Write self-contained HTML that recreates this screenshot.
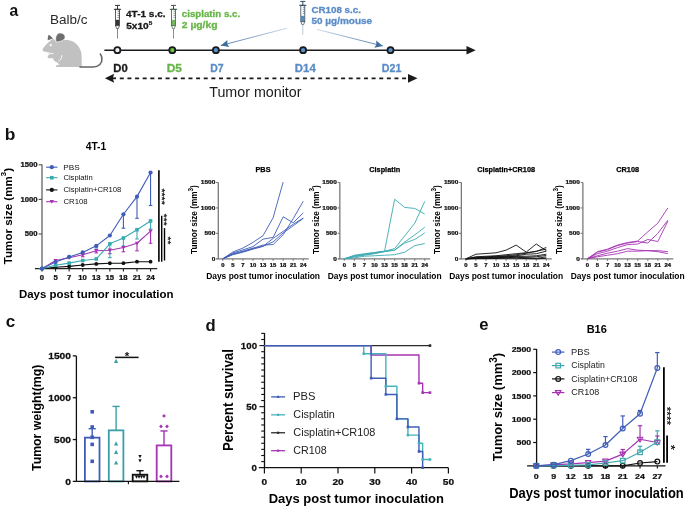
<!DOCTYPE html>
<html><head><meta charset="utf-8"><style>
html,body{margin:0;padding:0;background:#fff;}
svg{display:block;will-change:transform;}
text{font-family:"Liberation Sans", sans-serif;}
</style></head><body>
<svg width="685" height="507" viewBox="0 0 685 507" font-family='"Liberation Sans", sans-serif'>
<rect width="685" height="507" fill="#fff"/>
<text transform="translate(9.43,15.60) scale(0.932,1)" font-size="16.80" font-weight="bold" fill="#111">a</text>
<text transform="translate(50.02,23.60) scale(1.074,1)" font-size="12.60" font-weight="normal" fill="#2a2a2a">Balb/c</text>
<g>
<path d="M42.6,49.4 C43.6,47.3 48.6,41.6 53.2,38.6 L56,41.6 C60,40.3 64,39.6 68,40 C76,41 81.5,48 81.6,56 L81.8,67.1 L55.8,67.1 C55.8,65.5 57,64.8 59.5,64.8 L57,62.2 C54.5,61.8 53.2,60 53.2,58.3 L49.2,58.3 C47.4,58.2 47.2,55.3 48.8,54.9 L50.5,54.3 L44.6,52 C43.3,51.4 42.4,50.5 42.6,49.4 Z" fill="#c1c1c1"/>
<path d="M44.3,51.9 L53.6,53.9" stroke="#fff" stroke-width="0.9" fill="none"/>
<path d="M61.9,55.2 C61.9,57.8 60.6,60 58.5,61.2" stroke="#fff" stroke-width="0.9" fill="none"/>
<path d="M47.8,40.3 C47.6,38.2 47.9,36.2 48.6,34.7 C50.4,35.6 52,37 52.9,38.6 Z" fill="#6e6e6e"/>
<path d="M56.2,42 C54.8,38.5 56,33.2 59.8,32.9 C63.6,32.7 65.8,35.6 64.8,38.4 C63.8,40.8 59.5,41.8 56.2,42 Z" fill="#6e6e6e" stroke="#fff" stroke-width="0.7"/>
<circle cx="50.7" cy="45.2" r="1.1" fill="#fff"/>
<path d="M80,67 L93,67 C99,67 102.3,63 101.9,58.6 C101.7,56.6 101.1,55 100.3,54" stroke="#666" stroke-width="1.6" fill="none" stroke-linecap="round"/>
</g>
<line x1="104.40" y1="50.20" x2="468.00" y2="50.20" stroke="#1a1a1a" stroke-width="1.6" />
<polygon points="466.5,46 475.7,50.2 466.5,54.4" fill="#1a1a1a"/>
<circle cx="117.4" cy="50.2" r="3.0" fill="#eef2f8" stroke="#1a1a1a" stroke-width="1.8"/>
<circle cx="172.3" cy="50.2" r="3.0" fill="#6abf4b" stroke="#1a1a1a" stroke-width="1.8"/>
<circle cx="215.9" cy="50.2" r="3.0" fill="#5590cf" stroke="#1a1a1a" stroke-width="1.8"/>
<circle cx="303.1" cy="50.2" r="3.0" fill="#5590cf" stroke="#1a1a1a" stroke-width="1.8"/>
<circle cx="390.5" cy="50.2" r="3.0" fill="#5590cf" stroke="#1a1a1a" stroke-width="1.8"/>
<text transform="translate(113.27,71.60) scale(1.064,1)" font-size="10.60" font-weight="bold" fill="#1a1a1a" stroke="#1a1a1a" stroke-width="0.30">D0</text>
<text transform="translate(166.63,71.60) scale(1.123,1)" font-size="10.60" font-weight="bold" fill="#67b548" stroke="#67b548" stroke-width="0.30">D5</text>
<text transform="translate(210.22,71.60) scale(0.988,1)" font-size="10.60" font-weight="bold" fill="#5a8cc8" stroke="#5a8cc8" stroke-width="0.30">D7</text>
<text transform="translate(294.86,71.60) scale(1.074,1)" font-size="10.60" font-weight="bold" fill="#5a8cc8" stroke="#5a8cc8" stroke-width="0.30">D14</text>
<text transform="translate(381.81,71.60) scale(1.006,1)" font-size="10.60" font-weight="bold" fill="#5a8cc8" stroke="#5a8cc8" stroke-width="0.30">D21</text>
<line x1="119.80" y1="78.30" x2="407.00" y2="78.30" stroke="#1a1a1a" stroke-width="1.8" stroke-dasharray="4 3.63"/>
<polygon points="104.9,78.3 114.2,73.8 112.8,78.3 114.2,82.8" fill="#1a1a1a"/>
<line x1="112.00" y1="78.30" x2="116.00" y2="78.30" stroke="#1a1a1a" stroke-width="1.8" />
<polygon points="417.5,78.3 408,73.9 408,82.7" fill="#1a1a1a"/>
<text transform="translate(209.24,97.20) scale(0.985,1)" font-size="14.50" font-weight="normal" fill="#1a1a1a">Tumor monitor</text>
<g>
<line x1="115.0" y1="5.4" x2="120.0" y2="5.4" stroke="#333" stroke-width="1"/>
<line x1="117.5" y1="5.4" x2="117.5" y2="9.3" stroke="#333" stroke-width="1"/>
<line x1="113.9" y1="9.3" x2="121.1" y2="9.3" stroke="#333" stroke-width="1"/>
<rect x="115.8" y="19.8" width="3.4" height="5.6" fill="#333"/>
<rect x="115.5" y="9.3" width="4" height="16.4" fill="none" stroke="#333" stroke-width="0.8"/>
<path d="M117.5 11.2 h2 M117.5 13.3 h2 M117.5 15.4 h2 M117.5 17.4 h2" stroke="#333" stroke-width="0.6"/>
<path d="M115.7 25.700000000000003 L116.6 28.6 L118.4 28.6 L119.3 25.700000000000003" stroke="#333" stroke-width="0.7" fill="none"/>
<line x1="117.5" y1="28.6" x2="117.5" y2="38.6" stroke="#555" stroke-width="0.7"/>
</g>
<g>
<line x1="171.0" y1="5.4" x2="176.0" y2="5.4" stroke="#3d5a45" stroke-width="1"/>
<line x1="173.5" y1="5.4" x2="173.5" y2="9.3" stroke="#3d5a45" stroke-width="1"/>
<line x1="169.9" y1="9.3" x2="177.1" y2="9.3" stroke="#3d5a45" stroke-width="1"/>
<rect x="171.8" y="19.8" width="3.4" height="5.6" fill="#74b85a"/>
<rect x="171.5" y="9.3" width="4" height="16.4" fill="none" stroke="#3d5a45" stroke-width="0.8"/>
<path d="M173.5 11.2 h2 M173.5 13.3 h2 M173.5 15.4 h2 M173.5 17.4 h2" stroke="#3d5a45" stroke-width="0.6"/>
<path d="M171.7 25.700000000000003 L172.6 28.6 L174.4 28.6 L175.3 25.700000000000003" stroke="#3d5a45" stroke-width="0.7" fill="none"/>
<line x1="173.5" y1="28.6" x2="173.5" y2="38.6" stroke="#4a6a52" stroke-width="0.7"/>
</g>
<g>
<line x1="300.3" y1="1.4" x2="305.3" y2="1.4" stroke="#34495e" stroke-width="1"/>
<line x1="302.8" y1="1.4" x2="302.8" y2="5.3" stroke="#34495e" stroke-width="1"/>
<line x1="299.2" y1="5.3" x2="306.40000000000003" y2="5.3" stroke="#34495e" stroke-width="1"/>
<rect x="301.1" y="15.8" width="3.4" height="5.6" fill="#4f8fc6"/>
<rect x="300.8" y="5.3" width="4" height="16.4" fill="none" stroke="#34495e" stroke-width="0.8"/>
<path d="M302.8 7.199999999999999 h2 M302.8 9.3 h2 M302.8 11.4 h2 M302.8 13.4 h2" stroke="#34495e" stroke-width="0.6"/>
<path d="M301.0 21.7 L301.90000000000003 24.599999999999998 L303.7 24.599999999999998 L304.6 21.7" stroke="#34495e" stroke-width="0.7" fill="none"/>
<line x1="302.8" y1="24.599999999999998" x2="302.8" y2="34.6" stroke="#9fb2c4" stroke-width="0.7"/>
</g>
<text transform="translate(126.05,16.70) scale(1.043,1)" font-size="9.60" font-weight="bold" fill="#1a1a1a" stroke="#1a1a1a" stroke-width="0.30">4T-1 s.c.</text>
<text transform="translate(126.20,28.50) scale(1.022,1)" font-size="9.90" font-weight="bold" fill="#1a1a1a" stroke="#1a1a1a" stroke-width="0.30">5x10</text>
<text transform="translate(148.71,24.60) scale(1.391,1)" font-size="4.60" font-weight="bold" fill="#1a1a1a" stroke="#1a1a1a" stroke-width="0.20">5</text>
<text transform="translate(181.81,16.90) scale(1.045,1)" font-size="9.30" font-weight="bold" fill="#67b548" stroke="#67b548" stroke-width="0.30">cisplatin s.c.</text>
<text transform="translate(181.84,27.80) scale(1.106,1)" font-size="9.30" font-weight="bold" fill="#67b548" stroke="#67b548" stroke-width="0.30">2 µg/kg</text>
<text transform="translate(311.41,13.10) scale(1.010,1)" font-size="9.70" font-weight="bold" fill="#5a8cc8" stroke="#5a8cc8" stroke-width="0.30">CR108 s.c.</text>
<text transform="translate(311.50,24.30) scale(1.029,1)" font-size="9.70" font-weight="bold" fill="#5a8cc8" stroke="#5a8cc8" stroke-width="0.30">50 µg/mouse</text>
<defs><linearGradient id="ag1" gradientUnits="userSpaceOnUse" x1="287" y1="28.2" x2="220.8" y2="45.5"><stop offset="0" stop-color="#c9d7e6"/><stop offset="0.5" stop-color="#7f9fc2"/><stop offset="1" stop-color="#45739f"/></linearGradient></defs>
<line x1="287.00" y1="28.20" x2="220.80" y2="45.50" stroke="url(#ag1)" stroke-width="0.9" />
<polygon points="220.80,45.50 227.41,39.95 227.19,43.83 229.28,47.11" fill="#3d6d9d"/>
<defs><linearGradient id="ag2" gradientUnits="userSpaceOnUse" x1="317" y1="29.4" x2="382.8" y2="46.0"><stop offset="0" stop-color="#c9d7e6"/><stop offset="0.5" stop-color="#7f9fc2"/><stop offset="1" stop-color="#45739f"/></linearGradient></defs>
<line x1="317.00" y1="29.40" x2="382.80" y2="46.00" stroke="url(#ag2)" stroke-width="0.9" />
<polygon points="382.80,46.00 374.33,47.68 376.40,44.39 376.14,40.50" fill="#3d6d9d"/>
<text transform="translate(4.67,139.70) scale(1.117,1)" font-size="15.60" font-weight="bold" fill="#111">b</text>
<text transform="translate(85.65,150.10) scale(1.031,1)" font-size="10.00" font-weight="bold" fill="#000">4T-1</text>
<line x1="42.00" y1="164.60" x2="42.00" y2="268.60" stroke="#555" stroke-width="1.2" />
<line x1="34.90" y1="268.60" x2="157.20" y2="268.60" stroke="#222" stroke-width="1.3" />
<line x1="38.60" y1="268.60" x2="42.00" y2="268.60" stroke="#555" stroke-width="1.1" />
<line x1="38.60" y1="234.00" x2="42.00" y2="234.00" stroke="#555" stroke-width="1.1" />
<text transform="translate(24.82,236.20) scale(1.200,1)" font-size="6.40" font-weight="bold" fill="#111" stroke="#111" stroke-width="0.25">500</text>
<line x1="38.60" y1="199.40" x2="42.00" y2="199.40" stroke="#555" stroke-width="1.1" />
<text transform="translate(20.52,201.60) scale(1.200,1)" font-size="6.40" font-weight="bold" fill="#111" stroke="#111" stroke-width="0.25">1000</text>
<line x1="38.60" y1="164.80" x2="42.00" y2="164.80" stroke="#555" stroke-width="1.1" />
<text transform="translate(20.52,167.00) scale(1.200,1)" font-size="6.40" font-weight="bold" fill="#111" stroke="#111" stroke-width="0.25">1500</text>
<line x1="42.00" y1="268.60" x2="42.00" y2="271.40" stroke="#222" stroke-width="1.1" />
<text transform="translate(39.87,279.70) scale(1.200,1)" font-size="6.40" font-weight="bold" fill="#111" stroke="#111" stroke-width="0.25">0</text>
<line x1="55.57" y1="268.60" x2="55.57" y2="271.40" stroke="#222" stroke-width="1.1" />
<text transform="translate(53.42,279.70) scale(1.200,1)" font-size="6.40" font-weight="bold" fill="#111" stroke="#111" stroke-width="0.25">5</text>
<line x1="69.14" y1="268.60" x2="69.14" y2="271.40" stroke="#222" stroke-width="1.1" />
<text transform="translate(67.01,279.70) scale(1.200,1)" font-size="6.40" font-weight="bold" fill="#111" stroke="#111" stroke-width="0.25">7</text>
<line x1="82.71" y1="268.60" x2="82.71" y2="271.40" stroke="#222" stroke-width="1.1" />
<text transform="translate(78.35,279.70) scale(1.200,1)" font-size="6.40" font-weight="bold" fill="#111" stroke="#111" stroke-width="0.25">10</text>
<line x1="96.28" y1="268.60" x2="96.28" y2="271.40" stroke="#222" stroke-width="1.1" />
<text transform="translate(91.90,279.70) scale(1.200,1)" font-size="6.40" font-weight="bold" fill="#111" stroke="#111" stroke-width="0.25">13</text>
<line x1="109.85" y1="268.60" x2="109.85" y2="271.40" stroke="#222" stroke-width="1.1" />
<text transform="translate(105.43,279.70) scale(1.200,1)" font-size="6.40" font-weight="bold" fill="#111" stroke="#111" stroke-width="0.25">15</text>
<line x1="123.42" y1="268.60" x2="123.42" y2="271.40" stroke="#222" stroke-width="1.1" />
<text transform="translate(119.02,279.70) scale(1.200,1)" font-size="6.40" font-weight="bold" fill="#111" stroke="#111" stroke-width="0.25">18</text>
<line x1="136.99" y1="268.60" x2="136.99" y2="271.40" stroke="#222" stroke-width="1.1" />
<text transform="translate(132.69,279.70) scale(1.200,1)" font-size="6.40" font-weight="bold" fill="#111" stroke="#111" stroke-width="0.25">21</text>
<line x1="150.56" y1="268.60" x2="150.56" y2="271.40" stroke="#222" stroke-width="1.1" />
<text transform="translate(146.18,279.70) scale(1.200,1)" font-size="6.40" font-weight="bold" fill="#111" stroke="#111" stroke-width="0.25">24</text>
<text transform="translate(12.00,264.22) scale(1.000,1) rotate(-90)" font-size="11.60" font-weight="bold" fill="#000">Tumor size (mm<tspan font-size="7.8" dy="-5.6">3</tspan><tspan dy="5.6">)</tspan></text>
<text transform="translate(18.96,297.50) scale(1.051,1)" font-size="10.90" font-weight="bold" fill="#000">Days post tumor inoculation</text>
<line x1="82.71" y1="254.83" x2="82.71" y2="256.77" stroke="#a533b3" stroke-width="1.1" />
<line x1="80.91" y1="256.77" x2="84.51" y2="256.77" stroke="#a533b3" stroke-width="1.1" />
<line x1="96.28" y1="250.68" x2="96.28" y2="252.89" stroke="#a533b3" stroke-width="1.1" />
<line x1="94.48" y1="252.89" x2="98.08" y2="252.89" stroke="#a533b3" stroke-width="1.1" />
<line x1="109.85" y1="250.19" x2="109.85" y2="253.65" stroke="#a533b3" stroke-width="1.1" />
<line x1="108.05" y1="253.65" x2="111.65" y2="253.65" stroke="#a533b3" stroke-width="1.1" />
<line x1="123.42" y1="247.49" x2="123.42" y2="251.78" stroke="#a533b3" stroke-width="1.1" />
<line x1="121.62" y1="251.78" x2="125.22" y2="251.78" stroke="#a533b3" stroke-width="1.1" />
<line x1="136.99" y1="243.27" x2="136.99" y2="250.82" stroke="#a533b3" stroke-width="1.1" />
<line x1="135.19" y1="250.82" x2="138.79" y2="250.82" stroke="#a533b3" stroke-width="1.1" />
<line x1="150.56" y1="231.09" x2="150.56" y2="243.27" stroke="#a533b3" stroke-width="1.1" />
<line x1="148.76" y1="243.27" x2="152.36" y2="243.27" stroke="#a533b3" stroke-width="1.1" />
<line x1="109.85" y1="243.83" x2="109.85" y2="257.67" stroke="#3aaab1" stroke-width="1.1" />
<line x1="108.05" y1="257.67" x2="111.65" y2="257.67" stroke="#3aaab1" stroke-width="1.1" />
<line x1="123.42" y1="238.01" x2="123.42" y2="245.90" stroke="#3aaab1" stroke-width="1.1" />
<line x1="121.62" y1="245.90" x2="125.22" y2="245.90" stroke="#3aaab1" stroke-width="1.1" />
<line x1="136.99" y1="229.71" x2="136.99" y2="238.98" stroke="#3aaab1" stroke-width="1.1" />
<line x1="135.19" y1="238.98" x2="138.79" y2="238.98" stroke="#3aaab1" stroke-width="1.1" />
<line x1="150.56" y1="220.92" x2="150.56" y2="229.09" stroke="#3aaab1" stroke-width="1.1" />
<line x1="148.76" y1="229.09" x2="152.36" y2="229.09" stroke="#3aaab1" stroke-width="1.1" />
<line x1="96.28" y1="245.83" x2="96.28" y2="247.91" stroke="#3f5db8" stroke-width="1.1" />
<line x1="94.48" y1="247.91" x2="98.08" y2="247.91" stroke="#3f5db8" stroke-width="1.1" />
<line x1="123.42" y1="214.28" x2="123.42" y2="228.19" stroke="#3f5db8" stroke-width="1.1" />
<line x1="121.62" y1="228.19" x2="125.22" y2="228.19" stroke="#3f5db8" stroke-width="1.1" />
<line x1="136.99" y1="196.63" x2="136.99" y2="218.29" stroke="#3f5db8" stroke-width="1.1" />
<line x1="135.19" y1="218.29" x2="138.79" y2="218.29" stroke="#3f5db8" stroke-width="1.1" />
<line x1="150.56" y1="172.48" x2="150.56" y2="205.49" stroke="#3f5db8" stroke-width="1.1" />
<line x1="148.76" y1="205.49" x2="152.36" y2="205.49" stroke="#3f5db8" stroke-width="1.1" />
<polyline points="42.00,268.60 55.57,267.22 69.14,266.39 82.71,265.00 96.28,263.89 109.85,263.27 123.42,263.13 136.99,261.68 150.56,261.68" stroke="#111" stroke-width="1.1" fill="none" stroke-linejoin="round" />
<polyline points="42.00,268.60 55.57,260.57 69.14,257.80 82.71,254.83 96.28,250.68 109.85,250.19 123.42,247.49 136.99,243.27 150.56,231.09" stroke="#a533b3" stroke-width="1.1" fill="none" stroke-linejoin="round" />
<polyline points="42.00,268.60 55.57,265.28 69.14,263.13 82.71,260.57 96.28,258.98 109.85,243.83 123.42,238.01 136.99,229.71 150.56,220.92" stroke="#3aaab1" stroke-width="1.1" fill="none" stroke-linejoin="round" />
<polyline points="42.00,268.60 55.57,262.03 69.14,256.97 82.71,252.41 96.28,245.83 109.85,235.52 123.42,214.28 136.99,196.63 150.56,172.48" stroke="#3f5db8" stroke-width="1.1" fill="none" stroke-linejoin="round" />
<circle cx="42.00" cy="268.60" r="1.9" fill="#111"/>
<circle cx="55.57" cy="267.22" r="1.9" fill="#111"/>
<circle cx="69.14" cy="266.39" r="1.9" fill="#111"/>
<circle cx="82.71" cy="265.00" r="1.9" fill="#111"/>
<circle cx="96.28" cy="263.89" r="1.9" fill="#111"/>
<circle cx="109.85" cy="263.27" r="1.9" fill="#111"/>
<circle cx="123.42" cy="263.13" r="1.9" fill="#111"/>
<circle cx="136.99" cy="261.68" r="1.9" fill="#111"/>
<circle cx="150.56" cy="261.68" r="1.9" fill="#111"/>
<polygon points="39.80,267.00 44.20,267.00 42.00,270.60" fill="#a533b3"/>
<polygon points="53.37,258.97 57.77,258.97 55.57,262.57" fill="#a533b3"/>
<polygon points="66.94,256.20 71.34,256.20 69.14,259.80" fill="#a533b3"/>
<polygon points="80.51,253.23 84.91,253.23 82.71,256.83" fill="#a533b3"/>
<polygon points="94.08,249.08 98.48,249.08 96.28,252.68" fill="#a533b3"/>
<polygon points="107.65,248.59 112.05,248.59 109.85,252.19" fill="#a533b3"/>
<polygon points="121.22,245.89 125.62,245.89 123.42,249.49" fill="#a533b3"/>
<polygon points="134.79,241.67 139.19,241.67 136.99,245.27" fill="#a533b3"/>
<polygon points="148.36,229.49 152.76,229.49 150.56,233.09" fill="#a533b3"/>
<rect x="40.20" y="266.80" width="3.6" height="3.6" fill="#3aaab1"/>
<rect x="53.77" y="263.48" width="3.6" height="3.6" fill="#3aaab1"/>
<rect x="67.34" y="261.33" width="3.6" height="3.6" fill="#3aaab1"/>
<rect x="80.91" y="258.77" width="3.6" height="3.6" fill="#3aaab1"/>
<rect x="94.48" y="257.18" width="3.6" height="3.6" fill="#3aaab1"/>
<rect x="108.05" y="242.03" width="3.6" height="3.6" fill="#3aaab1"/>
<rect x="121.62" y="236.21" width="3.6" height="3.6" fill="#3aaab1"/>
<rect x="135.19" y="227.91" width="3.6" height="3.6" fill="#3aaab1"/>
<rect x="148.76" y="219.12" width="3.6" height="3.6" fill="#3aaab1"/>
<circle cx="42.00" cy="268.60" r="2.1" fill="#3f5db8"/>
<circle cx="55.57" cy="262.03" r="2.1" fill="#3f5db8"/>
<circle cx="69.14" cy="256.97" r="2.1" fill="#3f5db8"/>
<circle cx="82.71" cy="252.41" r="2.1" fill="#3f5db8"/>
<circle cx="96.28" cy="245.83" r="2.1" fill="#3f5db8"/>
<circle cx="109.85" cy="235.52" r="2.1" fill="#3f5db8"/>
<circle cx="123.42" cy="214.28" r="2.1" fill="#3f5db8"/>
<circle cx="136.99" cy="196.63" r="2.1" fill="#3f5db8"/>
<circle cx="150.56" cy="172.48" r="2.1" fill="#3f5db8"/>
<line x1="46.10" y1="167.20" x2="57.40" y2="167.20" stroke="#3f5db8" stroke-width="1.1" />
<circle cx="51.8" cy="167.20" r="2.1" fill="#3f5db8"/>
<text transform="translate(63.14,169.70) scale(1.033,1)" font-size="8.00" font-weight="normal" fill="#111">PBS</text>
<line x1="46.10" y1="177.70" x2="57.40" y2="177.70" stroke="#3aaab1" stroke-width="1.1" />
<rect x="50.0" y="175.90" width="3.6" height="3.6" fill="#3aaab1"/>
<text transform="translate(63.42,180.20) scale(0.954,1)" font-size="8.00" font-weight="normal" fill="#111">Cisplatin</text>
<line x1="46.10" y1="189.90" x2="57.40" y2="189.90" stroke="#111" stroke-width="1.1" />
<circle cx="51.8" cy="189.90" r="2.1" fill="#111"/>
<text transform="translate(63.41,192.40) scale(0.964,1)" font-size="8.00" font-weight="normal" fill="#111">Cisplatin+CR108</text>
<line x1="46.10" y1="201.70" x2="57.40" y2="201.70" stroke="#a533b3" stroke-width="1.1" />
<polygon points="49.60,200.10 54.00,200.10 51.80,203.70" fill="#a533b3"/>
<text transform="translate(63.41,204.20) scale(0.973,1)" font-size="8.00" font-weight="normal" fill="#111">CR108</text>
<line x1="158.90" y1="170.20" x2="158.90" y2="261.80" stroke="#000" stroke-width="1.6" />
<line x1="161.70" y1="215.70" x2="161.70" y2="261.80" stroke="#000" stroke-width="1.4" />
<line x1="164.50" y1="228.10" x2="164.50" y2="260.50" stroke="#000" stroke-width="1.4" />
<text transform="translate(158.61,188.39) rotate(90) scale(1.112,1)" font-size="9.5" font-weight="normal" stroke="#000" stroke-width="0.15">****</text>
<text transform="translate(161.31,213.69) rotate(90) scale(1.090,1)" font-size="9.5" font-weight="normal" stroke="#000" stroke-width="0.15">***</text>
<text transform="translate(164.61,236.49) rotate(90) scale(1.081,1)" font-size="9.5" font-weight="normal" stroke="#000" stroke-width="0.15">**</text>
<text transform="translate(255.49,171.50) scale(1.000,1)" font-size="7.30" font-weight="bold" fill="#000" stroke="#000" stroke-width="0.25">PBS</text>
<line x1="218.30" y1="182.40" x2="218.30" y2="258.80" stroke="#7a7a7a" stroke-width="1.3" />
<line x1="216.50" y1="258.80" x2="308.68" y2="258.80" stroke="#7a7a7a" stroke-width="1.3" />
<line x1="216.10" y1="258.80" x2="218.30" y2="258.80" stroke="#7a7a7a" stroke-width="1.1" />
<text transform="translate(211.66,260.70) scale(1.200,1)" font-size="5.40" font-weight="bold" fill="#111" stroke="#111" stroke-width="0.25">0</text>
<line x1="216.10" y1="233.37" x2="218.30" y2="233.37" stroke="#7a7a7a" stroke-width="1.1" />
<text transform="translate(204.47,235.27) scale(1.200,1)" font-size="5.40" font-weight="bold" fill="#111" stroke="#111" stroke-width="0.25">500</text>
<line x1="216.10" y1="207.93" x2="218.30" y2="207.93" stroke="#7a7a7a" stroke-width="1.1" />
<text transform="translate(200.84,209.83) scale(1.200,1)" font-size="5.40" font-weight="bold" fill="#111" stroke="#111" stroke-width="0.25">1000</text>
<line x1="216.10" y1="182.50" x2="218.30" y2="182.50" stroke="#7a7a7a" stroke-width="1.1" />
<text transform="translate(200.84,184.40) scale(1.200,1)" font-size="5.40" font-weight="bold" fill="#111" stroke="#111" stroke-width="0.25">1500</text>
<line x1="222.80" y1="258.80" x2="222.80" y2="260.80" stroke="#7a7a7a" stroke-width="1.1" />
<text transform="translate(221.17,266.90) scale(1.200,1)" font-size="4.90" font-weight="bold" fill="#111" stroke="#111" stroke-width="0.25">0</text>
<line x1="232.86" y1="258.80" x2="232.86" y2="260.80" stroke="#7a7a7a" stroke-width="1.1" />
<text transform="translate(231.21,266.90) scale(1.200,1)" font-size="4.90" font-weight="bold" fill="#111" stroke="#111" stroke-width="0.25">5</text>
<line x1="242.92" y1="258.80" x2="242.92" y2="260.80" stroke="#7a7a7a" stroke-width="1.1" />
<text transform="translate(241.29,266.90) scale(1.200,1)" font-size="4.90" font-weight="bold" fill="#111" stroke="#111" stroke-width="0.25">7</text>
<line x1="252.98" y1="258.80" x2="252.98" y2="260.80" stroke="#7a7a7a" stroke-width="1.1" />
<text transform="translate(249.64,266.90) scale(1.200,1)" font-size="4.90" font-weight="bold" fill="#111" stroke="#111" stroke-width="0.25">10</text>
<line x1="263.04" y1="258.80" x2="263.04" y2="260.80" stroke="#7a7a7a" stroke-width="1.1" />
<text transform="translate(259.69,266.90) scale(1.200,1)" font-size="4.90" font-weight="bold" fill="#111" stroke="#111" stroke-width="0.25">13</text>
<line x1="273.10" y1="258.80" x2="273.10" y2="260.80" stroke="#7a7a7a" stroke-width="1.1" />
<text transform="translate(269.72,266.90) scale(1.200,1)" font-size="4.90" font-weight="bold" fill="#111" stroke="#111" stroke-width="0.25">15</text>
<line x1="283.16" y1="258.80" x2="283.16" y2="260.80" stroke="#7a7a7a" stroke-width="1.1" />
<text transform="translate(279.79,266.90) scale(1.200,1)" font-size="4.90" font-weight="bold" fill="#111" stroke="#111" stroke-width="0.25">18</text>
<line x1="293.22" y1="258.80" x2="293.22" y2="260.80" stroke="#7a7a7a" stroke-width="1.1" />
<text transform="translate(289.93,266.90) scale(1.200,1)" font-size="4.90" font-weight="bold" fill="#111" stroke="#111" stroke-width="0.25">21</text>
<line x1="303.28" y1="258.80" x2="303.28" y2="260.80" stroke="#7a7a7a" stroke-width="1.1" />
<text transform="translate(299.93,266.90) scale(1.200,1)" font-size="4.90" font-weight="bold" fill="#111" stroke="#111" stroke-width="0.25">24</text>
<text transform="translate(197.10,253.88) scale(1.000,1) rotate(-90)" font-size="8.22" font-weight="bold" fill="#000">Tumor size (mm<tspan font-size="6.4" dy="-4.2">3</tspan><tspan dy="4.2">)</tspan></text>
<text transform="translate(206.15,278.90) scale(1.030,1)" font-size="8.20" font-weight="bold" fill="#000">Days post tumor inoculation</text>
<polyline points="222.80,258.80 232.86,251.98 242.92,248.07 252.98,242.37 263.04,235.60 273.10,217.75 283.16,182.09" stroke="#3f5db8" stroke-width="0.9" fill="none" stroke-linejoin="round" />
<polyline points="222.80,258.80 232.86,252.95 242.92,249.90 252.98,246.59 263.04,239.11 273.10,237.43 283.16,216.83 293.22,222.78 303.28,212.81" stroke="#3f5db8" stroke-width="0.9" fill="none" stroke-linejoin="round" />
<polyline points="222.80,258.80 232.86,253.71 242.92,251.17 252.98,248.12 263.04,245.07 273.10,244.56 283.16,234.74 293.22,218.66 303.28,201.16" stroke="#3f5db8" stroke-width="0.9" fill="none" stroke-linejoin="round" />
<polyline points="222.80,258.80 232.86,254.22 242.92,251.68 252.98,248.63 263.04,246.24 273.10,241.86 283.16,232.91 293.22,225.79 303.28,218.36" stroke="#3f5db8" stroke-width="0.9" fill="none" stroke-linejoin="round" />
<polyline points="222.80,258.80 232.86,254.73 242.92,252.19 252.98,249.13 263.04,246.34 273.10,238.45 283.16,231.33 293.22,224.21 303.28,218.10" stroke="#3f5db8" stroke-width="0.9" fill="none" stroke-linejoin="round" />
<text transform="translate(369.30,171.50) scale(1.000,1)" font-size="7.30" font-weight="bold" fill="#000" stroke="#000" stroke-width="0.25">Cisplatin</text>
<line x1="339.83" y1="182.40" x2="339.83" y2="258.80" stroke="#7a7a7a" stroke-width="1.3" />
<line x1="338.03" y1="258.80" x2="430.21" y2="258.80" stroke="#7a7a7a" stroke-width="1.3" />
<line x1="337.63" y1="258.80" x2="339.83" y2="258.80" stroke="#7a7a7a" stroke-width="1.1" />
<text transform="translate(333.19,260.70) scale(1.200,1)" font-size="5.40" font-weight="bold" fill="#111" stroke="#111" stroke-width="0.25">0</text>
<line x1="337.63" y1="233.37" x2="339.83" y2="233.37" stroke="#7a7a7a" stroke-width="1.1" />
<text transform="translate(326.00,235.27) scale(1.200,1)" font-size="5.40" font-weight="bold" fill="#111" stroke="#111" stroke-width="0.25">500</text>
<line x1="337.63" y1="207.93" x2="339.83" y2="207.93" stroke="#7a7a7a" stroke-width="1.1" />
<text transform="translate(322.37,209.83) scale(1.200,1)" font-size="5.40" font-weight="bold" fill="#111" stroke="#111" stroke-width="0.25">1000</text>
<line x1="337.63" y1="182.50" x2="339.83" y2="182.50" stroke="#7a7a7a" stroke-width="1.1" />
<text transform="translate(322.37,184.40) scale(1.200,1)" font-size="5.40" font-weight="bold" fill="#111" stroke="#111" stroke-width="0.25">1500</text>
<line x1="344.33" y1="258.80" x2="344.33" y2="260.80" stroke="#7a7a7a" stroke-width="1.1" />
<text transform="translate(342.70,266.90) scale(1.200,1)" font-size="4.90" font-weight="bold" fill="#111" stroke="#111" stroke-width="0.25">0</text>
<line x1="354.39" y1="258.80" x2="354.39" y2="260.80" stroke="#7a7a7a" stroke-width="1.1" />
<text transform="translate(352.74,266.90) scale(1.200,1)" font-size="4.90" font-weight="bold" fill="#111" stroke="#111" stroke-width="0.25">5</text>
<line x1="364.45" y1="258.80" x2="364.45" y2="260.80" stroke="#7a7a7a" stroke-width="1.1" />
<text transform="translate(362.82,266.90) scale(1.200,1)" font-size="4.90" font-weight="bold" fill="#111" stroke="#111" stroke-width="0.25">7</text>
<line x1="374.51" y1="258.80" x2="374.51" y2="260.80" stroke="#7a7a7a" stroke-width="1.1" />
<text transform="translate(371.17,266.90) scale(1.200,1)" font-size="4.90" font-weight="bold" fill="#111" stroke="#111" stroke-width="0.25">10</text>
<line x1="384.57" y1="258.80" x2="384.57" y2="260.80" stroke="#7a7a7a" stroke-width="1.1" />
<text transform="translate(381.22,266.90) scale(1.200,1)" font-size="4.90" font-weight="bold" fill="#111" stroke="#111" stroke-width="0.25">13</text>
<line x1="394.63" y1="258.80" x2="394.63" y2="260.80" stroke="#7a7a7a" stroke-width="1.1" />
<text transform="translate(391.25,266.90) scale(1.200,1)" font-size="4.90" font-weight="bold" fill="#111" stroke="#111" stroke-width="0.25">15</text>
<line x1="404.69" y1="258.80" x2="404.69" y2="260.80" stroke="#7a7a7a" stroke-width="1.1" />
<text transform="translate(401.32,266.90) scale(1.200,1)" font-size="4.90" font-weight="bold" fill="#111" stroke="#111" stroke-width="0.25">18</text>
<line x1="414.75" y1="258.80" x2="414.75" y2="260.80" stroke="#7a7a7a" stroke-width="1.1" />
<text transform="translate(411.46,266.90) scale(1.200,1)" font-size="4.90" font-weight="bold" fill="#111" stroke="#111" stroke-width="0.25">21</text>
<line x1="424.81" y1="258.80" x2="424.81" y2="260.80" stroke="#7a7a7a" stroke-width="1.1" />
<text transform="translate(421.46,266.90) scale(1.200,1)" font-size="4.90" font-weight="bold" fill="#111" stroke="#111" stroke-width="0.25">24</text>
<text transform="translate(318.63,253.88) scale(1.000,1) rotate(-90)" font-size="8.22" font-weight="bold" fill="#000">Tumor size (mm<tspan font-size="6.4" dy="-4.2">3</tspan><tspan dy="4.2">)</tspan></text>
<text transform="translate(327.68,278.90) scale(1.030,1)" font-size="8.20" font-weight="bold" fill="#000">Days post tumor inoculation</text>
<polyline points="344.33,258.80 354.39,255.75 364.45,254.22 374.51,252.70 384.57,251.17 394.63,199.28 404.69,207.42 414.75,208.44 424.81,214.03" stroke="#3aaab1" stroke-width="0.9" fill="none" stroke-linejoin="round" />
<polyline points="344.33,258.80 354.39,255.24 364.45,253.71 374.51,252.44 384.57,251.17 394.63,248.63 404.69,235.91 414.75,223.19 424.81,201.32" stroke="#3aaab1" stroke-width="0.9" fill="none" stroke-linejoin="round" />
<polyline points="344.33,258.80 354.39,256.26 364.45,254.73 374.51,253.20 384.57,251.42 394.63,250.15 404.69,242.01 414.75,234.89 424.81,227.26" stroke="#3aaab1" stroke-width="0.9" fill="none" stroke-linejoin="round" />
<polyline points="344.33,258.80 354.39,256.77 364.45,255.24 374.51,253.71 384.57,251.68 394.63,250.15 404.69,243.03 414.75,239.47 424.81,232.86" stroke="#3aaab1" stroke-width="0.9" fill="none" stroke-linejoin="round" />
<polyline points="344.33,258.80 354.39,257.78 364.45,256.26 374.51,255.75 384.57,255.24 394.63,254.73 404.69,252.19 414.75,245.57 424.81,243.54" stroke="#3aaab1" stroke-width="0.9" fill="none" stroke-linejoin="round" />
<text transform="translate(477.22,171.50) scale(1.000,1)" font-size="7.30" font-weight="bold" fill="#000" stroke="#000" stroke-width="0.25">Cisplatin+CR108</text>
<line x1="461.36" y1="182.40" x2="461.36" y2="258.80" stroke="#7a7a7a" stroke-width="1.3" />
<line x1="459.56" y1="258.80" x2="551.74" y2="258.80" stroke="#7a7a7a" stroke-width="1.3" />
<line x1="459.16" y1="258.80" x2="461.36" y2="258.80" stroke="#7a7a7a" stroke-width="1.1" />
<text transform="translate(454.72,260.70) scale(1.200,1)" font-size="5.40" font-weight="bold" fill="#111" stroke="#111" stroke-width="0.25">0</text>
<line x1="459.16" y1="233.37" x2="461.36" y2="233.37" stroke="#7a7a7a" stroke-width="1.1" />
<text transform="translate(447.53,235.27) scale(1.200,1)" font-size="5.40" font-weight="bold" fill="#111" stroke="#111" stroke-width="0.25">500</text>
<line x1="459.16" y1="207.93" x2="461.36" y2="207.93" stroke="#7a7a7a" stroke-width="1.1" />
<text transform="translate(443.90,209.83) scale(1.200,1)" font-size="5.40" font-weight="bold" fill="#111" stroke="#111" stroke-width="0.25">1000</text>
<line x1="459.16" y1="182.50" x2="461.36" y2="182.50" stroke="#7a7a7a" stroke-width="1.1" />
<text transform="translate(443.90,184.40) scale(1.200,1)" font-size="5.40" font-weight="bold" fill="#111" stroke="#111" stroke-width="0.25">1500</text>
<line x1="465.86" y1="258.80" x2="465.86" y2="260.80" stroke="#7a7a7a" stroke-width="1.1" />
<text transform="translate(464.23,266.90) scale(1.200,1)" font-size="4.90" font-weight="bold" fill="#111" stroke="#111" stroke-width="0.25">0</text>
<line x1="475.92" y1="258.80" x2="475.92" y2="260.80" stroke="#7a7a7a" stroke-width="1.1" />
<text transform="translate(474.27,266.90) scale(1.200,1)" font-size="4.90" font-weight="bold" fill="#111" stroke="#111" stroke-width="0.25">5</text>
<line x1="485.98" y1="258.80" x2="485.98" y2="260.80" stroke="#7a7a7a" stroke-width="1.1" />
<text transform="translate(484.35,266.90) scale(1.200,1)" font-size="4.90" font-weight="bold" fill="#111" stroke="#111" stroke-width="0.25">7</text>
<line x1="496.04" y1="258.80" x2="496.04" y2="260.80" stroke="#7a7a7a" stroke-width="1.1" />
<text transform="translate(492.70,266.90) scale(1.200,1)" font-size="4.90" font-weight="bold" fill="#111" stroke="#111" stroke-width="0.25">10</text>
<line x1="506.10" y1="258.80" x2="506.10" y2="260.80" stroke="#7a7a7a" stroke-width="1.1" />
<text transform="translate(502.75,266.90) scale(1.200,1)" font-size="4.90" font-weight="bold" fill="#111" stroke="#111" stroke-width="0.25">13</text>
<line x1="516.16" y1="258.80" x2="516.16" y2="260.80" stroke="#7a7a7a" stroke-width="1.1" />
<text transform="translate(512.78,266.90) scale(1.200,1)" font-size="4.90" font-weight="bold" fill="#111" stroke="#111" stroke-width="0.25">15</text>
<line x1="526.22" y1="258.80" x2="526.22" y2="260.80" stroke="#7a7a7a" stroke-width="1.1" />
<text transform="translate(522.85,266.90) scale(1.200,1)" font-size="4.90" font-weight="bold" fill="#111" stroke="#111" stroke-width="0.25">18</text>
<line x1="536.28" y1="258.80" x2="536.28" y2="260.80" stroke="#7a7a7a" stroke-width="1.1" />
<text transform="translate(532.99,266.90) scale(1.200,1)" font-size="4.90" font-weight="bold" fill="#111" stroke="#111" stroke-width="0.25">21</text>
<line x1="546.34" y1="258.80" x2="546.34" y2="260.80" stroke="#7a7a7a" stroke-width="1.1" />
<text transform="translate(542.99,266.90) scale(1.200,1)" font-size="4.90" font-weight="bold" fill="#111" stroke="#111" stroke-width="0.25">24</text>
<text transform="translate(440.16,253.88) scale(1.000,1) rotate(-90)" font-size="8.22" font-weight="bold" fill="#000">Tumor size (mm<tspan font-size="6.4" dy="-4.2">3</tspan><tspan dy="4.2">)</tspan></text>
<text transform="translate(449.21,278.90) scale(1.030,1)" font-size="8.20" font-weight="bold" fill="#000">Days post tumor inoculation</text>
<polyline points="465.86,258.80 475.92,254.22 485.98,253.51 496.04,252.80 506.10,250.10 516.16,245.12 526.22,252.09 536.28,244.00 546.34,250.81" stroke="#111" stroke-width="0.9" fill="none" stroke-linejoin="round" />
<polyline points="465.86,258.80 475.92,256.77 485.98,256.26 496.04,255.75 506.10,254.73 516.16,253.71 526.22,252.70 536.28,251.53 546.34,247.41" stroke="#111" stroke-width="0.9" fill="none" stroke-linejoin="round" />
<polyline points="465.86,258.80 475.92,257.27 485.98,256.77 496.04,256.26 506.10,255.75 516.16,254.73 526.22,253.20 536.28,251.17 546.34,249.13" stroke="#111" stroke-width="0.9" fill="none" stroke-linejoin="round" />
<polyline points="465.86,258.80 475.92,257.78 485.98,257.27 496.04,256.77 506.10,256.26 516.16,255.75 526.22,254.22 536.28,253.71 546.34,251.17" stroke="#111" stroke-width="0.9" fill="none" stroke-linejoin="round" />
<polyline points="465.86,258.80 475.92,258.04 485.98,257.78 496.04,257.27 506.10,256.77 516.16,256.26 526.22,256.26 536.28,255.75 546.34,254.22" stroke="#111" stroke-width="0.9" fill="none" stroke-linejoin="round" />
<polyline points="465.86,258.80 475.92,258.29 485.98,258.04 496.04,257.78 506.10,257.27 516.16,256.77 526.22,257.27 536.28,256.77 546.34,255.49" stroke="#111" stroke-width="0.9" fill="none" stroke-linejoin="round" />
<polyline points="465.86,258.80 475.92,258.55 485.98,258.29 496.04,258.29 506.10,257.78 516.16,257.27 526.22,257.78 536.28,258.29 546.34,256.92" stroke="#111" stroke-width="0.9" fill="none" stroke-linejoin="round" />
<polyline points="465.86,258.80 475.92,258.55 485.98,258.55 496.04,258.29 506.10,258.29 516.16,258.29 526.22,258.55 536.28,258.80 546.34,258.29" stroke="#111" stroke-width="0.9" fill="none" stroke-linejoin="round" />
<text transform="translate(616.30,171.50) scale(1.000,1)" font-size="7.30" font-weight="bold" fill="#000" stroke="#000" stroke-width="0.25">CR108</text>
<line x1="582.89" y1="182.40" x2="582.89" y2="258.80" stroke="#7a7a7a" stroke-width="1.3" />
<line x1="581.09" y1="258.80" x2="673.27" y2="258.80" stroke="#7a7a7a" stroke-width="1.3" />
<line x1="580.69" y1="258.80" x2="582.89" y2="258.80" stroke="#7a7a7a" stroke-width="1.1" />
<text transform="translate(576.25,260.70) scale(1.200,1)" font-size="5.40" font-weight="bold" fill="#111" stroke="#111" stroke-width="0.25">0</text>
<line x1="580.69" y1="233.37" x2="582.89" y2="233.37" stroke="#7a7a7a" stroke-width="1.1" />
<text transform="translate(569.06,235.27) scale(1.200,1)" font-size="5.40" font-weight="bold" fill="#111" stroke="#111" stroke-width="0.25">500</text>
<line x1="580.69" y1="207.93" x2="582.89" y2="207.93" stroke="#7a7a7a" stroke-width="1.1" />
<text transform="translate(565.43,209.83) scale(1.200,1)" font-size="5.40" font-weight="bold" fill="#111" stroke="#111" stroke-width="0.25">1000</text>
<line x1="580.69" y1="182.50" x2="582.89" y2="182.50" stroke="#7a7a7a" stroke-width="1.1" />
<text transform="translate(565.43,184.40) scale(1.200,1)" font-size="5.40" font-weight="bold" fill="#111" stroke="#111" stroke-width="0.25">1500</text>
<line x1="587.39" y1="258.80" x2="587.39" y2="260.80" stroke="#7a7a7a" stroke-width="1.1" />
<text transform="translate(585.76,266.90) scale(1.200,1)" font-size="4.90" font-weight="bold" fill="#111" stroke="#111" stroke-width="0.25">0</text>
<line x1="597.45" y1="258.80" x2="597.45" y2="260.80" stroke="#7a7a7a" stroke-width="1.1" />
<text transform="translate(595.80,266.90) scale(1.200,1)" font-size="4.90" font-weight="bold" fill="#111" stroke="#111" stroke-width="0.25">5</text>
<line x1="607.51" y1="258.80" x2="607.51" y2="260.80" stroke="#7a7a7a" stroke-width="1.1" />
<text transform="translate(605.88,266.90) scale(1.200,1)" font-size="4.90" font-weight="bold" fill="#111" stroke="#111" stroke-width="0.25">7</text>
<line x1="617.57" y1="258.80" x2="617.57" y2="260.80" stroke="#7a7a7a" stroke-width="1.1" />
<text transform="translate(614.23,266.90) scale(1.200,1)" font-size="4.90" font-weight="bold" fill="#111" stroke="#111" stroke-width="0.25">10</text>
<line x1="627.63" y1="258.80" x2="627.63" y2="260.80" stroke="#7a7a7a" stroke-width="1.1" />
<text transform="translate(624.28,266.90) scale(1.200,1)" font-size="4.90" font-weight="bold" fill="#111" stroke="#111" stroke-width="0.25">13</text>
<line x1="637.69" y1="258.80" x2="637.69" y2="260.80" stroke="#7a7a7a" stroke-width="1.1" />
<text transform="translate(634.31,266.90) scale(1.200,1)" font-size="4.90" font-weight="bold" fill="#111" stroke="#111" stroke-width="0.25">15</text>
<line x1="647.75" y1="258.80" x2="647.75" y2="260.80" stroke="#7a7a7a" stroke-width="1.1" />
<text transform="translate(644.38,266.90) scale(1.200,1)" font-size="4.90" font-weight="bold" fill="#111" stroke="#111" stroke-width="0.25">18</text>
<line x1="657.81" y1="258.80" x2="657.81" y2="260.80" stroke="#7a7a7a" stroke-width="1.1" />
<text transform="translate(654.52,266.90) scale(1.200,1)" font-size="4.90" font-weight="bold" fill="#111" stroke="#111" stroke-width="0.25">21</text>
<line x1="667.87" y1="258.80" x2="667.87" y2="260.80" stroke="#7a7a7a" stroke-width="1.1" />
<text transform="translate(664.52,266.90) scale(1.200,1)" font-size="4.90" font-weight="bold" fill="#111" stroke="#111" stroke-width="0.25">24</text>
<text transform="translate(561.69,253.88) scale(1.000,1) rotate(-90)" font-size="8.22" font-weight="bold" fill="#000">Tumor size (mm<tspan font-size="6.4" dy="-4.2">3</tspan><tspan dy="4.2">)</tspan></text>
<text transform="translate(570.74,278.90) scale(1.030,1)" font-size="8.20" font-weight="bold" fill="#000">Days post tumor inoculation</text>
<polyline points="587.39,258.80 597.45,251.68 607.51,249.13 617.57,245.07 627.63,242.52 637.69,241.00 647.75,231.84 657.81,223.19 667.87,207.93" stroke="#a533b3" stroke-width="0.9" fill="none" stroke-linejoin="round" />
<polyline points="587.39,258.80 597.45,252.19 607.51,249.64 617.57,245.57 627.63,243.03 637.69,241.50 647.75,243.03 657.81,233.37 667.87,220.14" stroke="#a533b3" stroke-width="0.9" fill="none" stroke-linejoin="round" />
<polyline points="587.39,258.80 597.45,253.71 607.51,251.17 617.57,247.61 627.63,244.56 637.69,244.05 647.75,239.47 657.81,241.50 667.87,221.16" stroke="#a533b3" stroke-width="0.9" fill="none" stroke-linejoin="round" />
<polyline points="587.39,258.80 597.45,255.75 607.51,253.20 617.57,251.17 627.63,248.63 637.69,250.15 647.75,250.66 657.81,250.66 667.87,251.68" stroke="#a533b3" stroke-width="0.9" fill="none" stroke-linejoin="round" />
<polyline points="587.39,258.80 597.45,256.77 607.51,255.24 617.57,253.71 627.63,251.17 637.69,251.17 647.75,250.66 657.81,251.68 667.87,253.71" stroke="#a533b3" stroke-width="0.9" fill="none" stroke-linejoin="round" />
<text transform="translate(5.82,327.00) scale(1.097,1)" font-size="15.60" font-weight="bold" fill="#111">c</text>
<text transform="translate(65.32,484.50) scale(1.140,1)" font-size="9.00" font-weight="bold" fill="#111" stroke="#111" stroke-width="0.25">0</text>
<text transform="translate(53.93,442.67) scale(1.140,1)" font-size="9.00" font-weight="bold" fill="#111" stroke="#111" stroke-width="0.25">500</text>
<text transform="translate(48.18,400.83) scale(1.140,1)" font-size="9.00" font-weight="bold" fill="#111" stroke="#111" stroke-width="0.25">1000</text>
<text transform="translate(48.18,359.00) scale(1.140,1)" font-size="9.00" font-weight="bold" fill="#111" stroke="#111" stroke-width="0.25">1500</text>
<text transform="translate(41.20,470.92) scale(1.070,1) rotate(-90)" font-size="12.30" font-weight="bold" fill="#000">Tumor weight(mg)</text>
<line x1="92.20" y1="437.64" x2="92.20" y2="428.69" stroke="#3f5db8" stroke-width="1.4" />
<line x1="88.60" y1="428.69" x2="95.80" y2="428.69" stroke="#3f5db8" stroke-width="1.4" />
<rect x="84.90" y="437.64" width="14.6" height="43.76" fill="#fff" stroke="#3f5db8" stroke-width="1.8"/>
<line x1="116.10" y1="430.36" x2="116.10" y2="406.43" stroke="#3b9fa8" stroke-width="1.4" />
<line x1="112.50" y1="406.43" x2="119.70" y2="406.43" stroke="#3b9fa8" stroke-width="1.4" />
<rect x="108.80" y="430.36" width="14.6" height="51.04" fill="#fff" stroke="#3b9fa8" stroke-width="1.8"/>
<line x1="140.00" y1="474.71" x2="140.00" y2="470.69" stroke="#111" stroke-width="1.4" />
<line x1="136.40" y1="470.69" x2="143.60" y2="470.69" stroke="#111" stroke-width="1.4" />
<rect x="132.70" y="474.71" width="14.6" height="6.69" fill="#fff" stroke="#111" stroke-width="1.8"/>
<line x1="164.00" y1="445.42" x2="164.00" y2="430.95" stroke="#a533b3" stroke-width="1.4" />
<line x1="160.40" y1="430.95" x2="167.60" y2="430.95" stroke="#a533b3" stroke-width="1.4" />
<rect x="156.70" y="445.42" width="14.6" height="35.98" fill="#fff" stroke="#a533b3" stroke-width="1.8"/>
<rect x="90.40" y="410.00" width="3.6" height="3.6" fill="#3f5db8"/>
<rect x="90.40" y="425.20" width="3.6" height="3.6" fill="#3f5db8"/>
<rect x="90.40" y="435.50" width="3.6" height="3.6" fill="#3f5db8"/>
<rect x="90.40" y="442.60" width="3.6" height="3.6" fill="#3f5db8"/>
<rect x="90.40" y="459.50" width="3.6" height="3.6" fill="#3f5db8"/>
<polygon points="114.00,362.89 118.20,362.89 116.10,358.69" fill="#3b9fa8"/>
<polygon points="114.00,445.49 118.20,445.49 116.10,441.29" fill="#3b9fa8"/>
<polygon points="114.00,453.99 118.20,453.99 116.10,449.79" fill="#3b9fa8"/>
<polygon points="114.00,464.59 118.20,464.59 116.10,460.39" fill="#3b9fa8"/>
<polygon points="138.40,454.96 141.60,454.96 140.00,458.16" fill="#111"/>
<polygon points="138.40,459.26 141.60,459.26 140.00,462.46" fill="#111"/>
<polygon points="134.90,475.56 138.10,475.56 136.50,478.76" fill="#111"/>
<polygon points="137.40,475.56 140.60,475.56 139.00,478.76" fill="#111"/>
<polygon points="139.90,475.56 143.10,475.56 141.50,478.76" fill="#111"/>
<polygon points="142.40,475.56 145.60,475.56 144.00,478.76" fill="#111"/>
<polygon points="162.10,415.90 164.00,414.00 165.90,415.90 164.00,417.80" fill="#a533b3"/>
<polygon points="159.10,426.40 161.00,424.50 162.90,426.40 161.00,428.30" fill="#a533b3"/>
<polygon points="165.10,426.40 167.00,424.50 168.90,426.40 167.00,428.30" fill="#a533b3"/>
<polygon points="159.10,476.40 161.00,474.50 162.90,476.40 161.00,478.30" fill="#a533b3"/>
<polygon points="165.10,476.40 167.00,474.50 168.90,476.40 167.00,478.30" fill="#a533b3"/>
<line x1="76.40" y1="355.90" x2="76.40" y2="481.40" stroke="#111" stroke-width="1.3" />
<line x1="72.80" y1="481.40" x2="179.40" y2="481.40" stroke="#111" stroke-width="1.4" />
<line x1="128.40" y1="481.40" x2="128.40" y2="484.30" stroke="#111" stroke-width="1.1" />
<line x1="72.80" y1="439.56" x2="76.40" y2="439.56" stroke="#111" stroke-width="1.3" />
<line x1="72.80" y1="397.73" x2="76.40" y2="397.73" stroke="#111" stroke-width="1.3" />
<line x1="72.80" y1="355.89" x2="76.40" y2="355.89" stroke="#111" stroke-width="1.3" />
<line x1="115.10" y1="357.40" x2="138.60" y2="357.40" stroke="#111" stroke-width="1.5" />
<text transform="translate(124.76,360.00) scale(1.000,1)" font-size="11.50" font-weight="bold" fill="#111">*</text>
<text transform="translate(205.43,330.60) scale(1.066,1)" font-size="15.60" font-weight="bold" fill="#111">d</text>
<line x1="264.50" y1="333.00" x2="264.50" y2="467.70" stroke="#111" stroke-width="1.3" />
<line x1="258.90" y1="467.70" x2="448.40" y2="467.70" stroke="#111" stroke-width="1.3" />
<line x1="261.20" y1="461.59" x2="264.50" y2="461.59" stroke="#111" stroke-width="1.1" />
<line x1="261.20" y1="455.49" x2="264.50" y2="455.49" stroke="#111" stroke-width="1.1" />
<line x1="261.20" y1="449.38" x2="264.50" y2="449.38" stroke="#111" stroke-width="1.1" />
<line x1="261.20" y1="443.28" x2="264.50" y2="443.28" stroke="#111" stroke-width="1.1" />
<line x1="261.20" y1="437.18" x2="264.50" y2="437.18" stroke="#111" stroke-width="1.1" />
<line x1="261.20" y1="431.07" x2="264.50" y2="431.07" stroke="#111" stroke-width="1.1" />
<line x1="261.20" y1="424.96" x2="264.50" y2="424.96" stroke="#111" stroke-width="1.1" />
<line x1="261.20" y1="418.86" x2="264.50" y2="418.86" stroke="#111" stroke-width="1.1" />
<line x1="261.20" y1="412.75" x2="264.50" y2="412.75" stroke="#111" stroke-width="1.1" />
<line x1="259.40" y1="406.65" x2="264.50" y2="406.65" stroke="#111" stroke-width="1.1" />
<line x1="261.20" y1="400.54" x2="264.50" y2="400.54" stroke="#111" stroke-width="1.1" />
<line x1="261.20" y1="394.44" x2="264.50" y2="394.44" stroke="#111" stroke-width="1.1" />
<line x1="261.20" y1="388.33" x2="264.50" y2="388.33" stroke="#111" stroke-width="1.1" />
<line x1="261.20" y1="382.23" x2="264.50" y2="382.23" stroke="#111" stroke-width="1.1" />
<line x1="261.20" y1="376.12" x2="264.50" y2="376.12" stroke="#111" stroke-width="1.1" />
<line x1="261.20" y1="370.02" x2="264.50" y2="370.02" stroke="#111" stroke-width="1.1" />
<line x1="261.20" y1="363.91" x2="264.50" y2="363.91" stroke="#111" stroke-width="1.1" />
<line x1="261.20" y1="357.81" x2="264.50" y2="357.81" stroke="#111" stroke-width="1.1" />
<line x1="261.20" y1="351.70" x2="264.50" y2="351.70" stroke="#111" stroke-width="1.1" />
<line x1="259.40" y1="345.60" x2="264.50" y2="345.60" stroke="#111" stroke-width="1.1" />
<line x1="261.20" y1="339.50" x2="264.50" y2="339.50" stroke="#111" stroke-width="1.1" />
<line x1="261.20" y1="333.39" x2="264.50" y2="333.39" stroke="#111" stroke-width="1.1" />
<text transform="translate(251.61,471.00) scale(1.030,1)" font-size="9.40" font-weight="bold" fill="#111" stroke="#111" stroke-width="0.25">0</text>
<text transform="translate(246.24,409.95) scale(1.030,1)" font-size="9.40" font-weight="bold" fill="#111" stroke="#111" stroke-width="0.25">50</text>
<text transform="translate(240.87,348.90) scale(1.030,1)" font-size="9.40" font-weight="bold" fill="#111" stroke="#111" stroke-width="0.25">100</text>
<line x1="264.40" y1="467.70" x2="264.40" y2="473.50" stroke="#111" stroke-width="1.2" />
<text transform="translate(261.59,484.50) scale(1.100,1)" font-size="9.20" font-weight="bold" fill="#111" stroke="#111" stroke-width="0.25">0</text>
<line x1="301.20" y1="467.70" x2="301.20" y2="473.50" stroke="#111" stroke-width="1.2" />
<text transform="translate(295.46,484.50) scale(1.100,1)" font-size="9.20" font-weight="bold" fill="#111" stroke="#111" stroke-width="0.25">10</text>
<line x1="338.00" y1="467.70" x2="338.00" y2="473.50" stroke="#111" stroke-width="1.2" />
<text transform="translate(332.41,484.50) scale(1.100,1)" font-size="9.20" font-weight="bold" fill="#111" stroke="#111" stroke-width="0.25">20</text>
<line x1="374.80" y1="467.70" x2="374.80" y2="473.50" stroke="#111" stroke-width="1.2" />
<text transform="translate(369.26,484.50) scale(1.100,1)" font-size="9.20" font-weight="bold" fill="#111" stroke="#111" stroke-width="0.25">30</text>
<line x1="411.60" y1="467.70" x2="411.60" y2="473.50" stroke="#111" stroke-width="1.2" />
<text transform="translate(406.11,484.50) scale(1.100,1)" font-size="9.20" font-weight="bold" fill="#111" stroke="#111" stroke-width="0.25">40</text>
<line x1="448.40" y1="467.70" x2="448.40" y2="473.50" stroke="#111" stroke-width="1.2" />
<text transform="translate(442.83,484.50) scale(1.100,1)" font-size="9.20" font-weight="bold" fill="#111" stroke="#111" stroke-width="0.25">50</text>
<text transform="translate(232.90,451.06) scale(1.040,1) rotate(-90)" font-size="13.20" font-weight="bold" fill="#000">Percent survival</text>
<text transform="translate(268.66,502.90) scale(1.007,1)" font-size="12.90" font-weight="bold" fill="#000">Days post tumor inoculation</text>
<polyline points="264.40,345.60 430.00,345.60 430.00,345.60" stroke="#2a2a2a" stroke-width="1.4" fill="none" stroke-linejoin="round" stroke-linejoin="miter"/>
<polyline points="264.40,345.60 371.12,345.60 371.12,345.60 371.12,345.60 371.12,355.00 418.96,355.00 418.96,355.00 418.96,355.00 418.96,383.21 422.64,383.21 422.64,383.21 422.64,383.21 422.64,392.61 430.00,392.61 430.00,392.61" stroke="#a533b3" stroke-width="1.4" fill="none" stroke-linejoin="round" stroke-linejoin="miter"/>
<polyline points="264.40,345.60 363.76,345.60 363.76,345.60 363.76,345.60 363.76,353.78 385.84,353.78 385.84,353.78 385.84,353.78 385.84,386.26 396.88,386.26 396.88,386.26 396.88,386.26 396.88,418.86 407.92,418.86 407.92,418.86 407.92,418.86 407.92,435.10 418.96,435.10 418.96,435.10 418.96,435.10 418.96,443.28 422.64,443.28 422.64,443.28 422.64,443.28 422.64,459.52 430.00,459.52 430.00,459.52" stroke="#44b3bb" stroke-width="1.4" fill="none" stroke-linejoin="round" stroke-linejoin="miter"/>
<polyline points="264.40,345.60 371.12,345.60 371.12,345.60 371.12,345.60 371.12,378.20 385.84,378.20 385.84,378.20 385.84,378.20 385.84,394.44 396.88,394.44 396.88,394.44 396.88,394.44 396.88,418.86 407.92,418.86 407.92,418.86 407.92,418.86 407.92,427.04 418.96,427.04 418.96,427.04 418.96,427.04 418.96,451.46 422.64,451.46 422.64,451.46 422.64,451.46 422.64,467.70" stroke="#3f5db8" stroke-width="1.4" fill="none" stroke-linejoin="round" stroke-linejoin="miter"/>
<rect x="428.70" y="344.30" width="2.6" height="2.6" fill="#2a2a2a"/>
<rect x="362.46" y="352.48" width="2.6" height="2.6" fill="#44b3bb"/>
<rect x="384.54" y="384.96" width="2.6" height="2.6" fill="#44b3bb"/>
<rect x="406.62" y="433.80" width="2.6" height="2.6" fill="#44b3bb"/>
<rect x="417.66" y="441.98" width="2.6" height="2.6" fill="#44b3bb"/>
<rect x="421.34" y="458.22" width="2.6" height="2.6" fill="#44b3bb"/>
<rect x="428.70" y="458.22" width="2.6" height="2.6" fill="#44b3bb"/>
<rect x="369.82" y="376.90" width="2.6" height="2.6" fill="#3f5db8"/>
<rect x="384.54" y="393.14" width="2.6" height="2.6" fill="#3f5db8"/>
<rect x="395.58" y="417.56" width="2.6" height="2.6" fill="#3f5db8"/>
<rect x="406.62" y="425.74" width="2.6" height="2.6" fill="#3f5db8"/>
<rect x="417.66" y="450.16" width="2.6" height="2.6" fill="#3f5db8"/>
<rect x="421.34" y="466.40" width="2.6" height="2.6" fill="#3f5db8"/>
<rect x="417.66" y="381.91" width="2.6" height="2.6" fill="#a533b3"/>
<rect x="421.34" y="391.31" width="2.6" height="2.6" fill="#a533b3"/>
<rect x="428.70" y="391.31" width="2.6" height="2.6" fill="#a533b3"/>
<line x1="271.10" y1="396.90" x2="285.10" y2="396.90" stroke="#3f5db8" stroke-width="1.3" />
<rect x="277.00" y="395.80" width="2.2" height="2.2" fill="#3f5db8"/>
<text transform="translate(293.00,400.20) scale(1.098,1)" font-size="10.20" font-weight="normal" fill="#222">PBS</text>
<line x1="271.10" y1="414.83" x2="285.10" y2="414.83" stroke="#44b3bb" stroke-width="1.3" />
<rect x="277.00" y="413.73" width="2.2" height="2.2" fill="#44b3bb"/>
<text transform="translate(293.36,418.13) scale(1.062,1)" font-size="10.20" font-weight="normal" fill="#222">Cisplatin</text>
<line x1="271.10" y1="432.76" x2="285.10" y2="432.76" stroke="#2a2a2a" stroke-width="1.3" />
<rect x="277.00" y="431.66" width="2.2" height="2.2" fill="#2a2a2a"/>
<text transform="translate(293.35,436.06) scale(1.069,1)" font-size="10.20" font-weight="normal" fill="#222">Cisplatin+CR108</text>
<line x1="271.10" y1="450.69" x2="285.10" y2="450.69" stroke="#a533b3" stroke-width="1.3" />
<rect x="277.00" y="449.59" width="2.2" height="2.2" fill="#a533b3"/>
<text transform="translate(293.36,453.99) scale(1.052,1)" font-size="10.20" font-weight="normal" fill="#222">CR108</text>
<text transform="translate(479.13,330.00) scale(1.068,1)" font-size="15.60" font-weight="bold" fill="#111">e</text>
<text transform="translate(586.64,332.50) scale(1.100,1)" font-size="10.00" font-weight="bold" fill="#000">B16</text>
<line x1="536.60" y1="349.00" x2="536.60" y2="465.80" stroke="#111" stroke-width="1.3" />
<line x1="527.10" y1="465.80" x2="665.50" y2="465.80" stroke="#111" stroke-width="1.3" />
<line x1="533.20" y1="442.50" x2="536.60" y2="442.50" stroke="#111" stroke-width="1.2" />
<text transform="translate(516.60,445.30) scale(1.100,1)" font-size="8.00" font-weight="bold" fill="#111" stroke="#111" stroke-width="0.25">500</text>
<line x1="533.20" y1="419.20" x2="536.60" y2="419.20" stroke="#111" stroke-width="1.2" />
<text transform="translate(511.67,422.00) scale(1.100,1)" font-size="8.00" font-weight="bold" fill="#111" stroke="#111" stroke-width="0.25">1000</text>
<line x1="533.20" y1="395.90" x2="536.60" y2="395.90" stroke="#111" stroke-width="1.2" />
<text transform="translate(511.67,398.70) scale(1.100,1)" font-size="8.00" font-weight="bold" fill="#111" stroke="#111" stroke-width="0.25">1500</text>
<line x1="533.20" y1="372.60" x2="536.60" y2="372.60" stroke="#111" stroke-width="1.2" />
<text transform="translate(511.67,375.40) scale(1.100,1)" font-size="8.00" font-weight="bold" fill="#111" stroke="#111" stroke-width="0.25">2000</text>
<line x1="533.20" y1="349.30" x2="536.60" y2="349.30" stroke="#111" stroke-width="1.2" />
<text transform="translate(511.67,352.10) scale(1.100,1)" font-size="8.00" font-weight="bold" fill="#111" stroke="#111" stroke-width="0.25">2500</text>
<line x1="536.30" y1="465.80" x2="536.30" y2="468.60" stroke="#111" stroke-width="1.1" />
<text transform="translate(533.84,478.60) scale(1.120,1)" font-size="7.90" font-weight="bold" fill="#111" stroke="#111" stroke-width="0.25">0</text>
<line x1="553.59" y1="465.80" x2="553.59" y2="468.60" stroke="#111" stroke-width="1.1" />
<text transform="translate(551.13,478.60) scale(1.120,1)" font-size="7.90" font-weight="bold" fill="#111" stroke="#111" stroke-width="0.25">9</text>
<line x1="570.88" y1="465.80" x2="570.88" y2="468.60" stroke="#111" stroke-width="1.1" />
<text transform="translate(565.86,478.60) scale(1.120,1)" font-size="7.90" font-weight="bold" fill="#111" stroke="#111" stroke-width="0.25">12</text>
<line x1="588.17" y1="465.80" x2="588.17" y2="468.60" stroke="#111" stroke-width="1.1" />
<text transform="translate(583.08,478.60) scale(1.120,1)" font-size="7.90" font-weight="bold" fill="#111" stroke="#111" stroke-width="0.25">15</text>
<line x1="605.46" y1="465.80" x2="605.46" y2="468.60" stroke="#111" stroke-width="1.1" />
<text transform="translate(600.39,478.60) scale(1.120,1)" font-size="7.90" font-weight="bold" fill="#111" stroke="#111" stroke-width="0.25">18</text>
<line x1="622.75" y1="465.80" x2="622.75" y2="468.60" stroke="#111" stroke-width="1.1" />
<text transform="translate(617.80,478.60) scale(1.120,1)" font-size="7.90" font-weight="bold" fill="#111" stroke="#111" stroke-width="0.25">21</text>
<line x1="640.04" y1="465.80" x2="640.04" y2="468.60" stroke="#111" stroke-width="1.1" />
<text transform="translate(635.00,478.60) scale(1.120,1)" font-size="7.90" font-weight="bold" fill="#111" stroke="#111" stroke-width="0.25">24</text>
<line x1="657.33" y1="465.80" x2="657.33" y2="468.60" stroke="#111" stroke-width="1.1" />
<text transform="translate(652.46,478.60) scale(1.120,1)" font-size="7.90" font-weight="bold" fill="#111" stroke="#111" stroke-width="0.25">27</text>
<text transform="translate(502.40,461.23) scale(1.000,1) rotate(-90)" font-size="12.97" font-weight="bold" fill="#000">Tumor size (mm<tspan font-size="10" dy="-5.3">3</tspan><tspan dy="5.3">)</tspan></text>
<text transform="translate(509.26,497.90) scale(0.937,1)" font-size="13.80" font-weight="bold" fill="#000">Days post tumor inoculation</text>
<line x1="588.17" y1="454.01" x2="588.17" y2="449.35" stroke="#3f5db8" stroke-width="1.2" />
<line x1="585.97" y1="449.35" x2="590.37" y2="449.35" stroke="#3f5db8" stroke-width="1.2" />
<line x1="605.46" y1="444.97" x2="605.46" y2="436.58" stroke="#3f5db8" stroke-width="1.2" />
<line x1="603.26" y1="436.58" x2="607.66" y2="436.58" stroke="#3f5db8" stroke-width="1.2" />
<line x1="622.75" y1="428.52" x2="622.75" y2="415.94" stroke="#3f5db8" stroke-width="1.2" />
<line x1="620.55" y1="415.94" x2="624.95" y2="415.94" stroke="#3f5db8" stroke-width="1.2" />
<line x1="640.04" y1="413.70" x2="640.04" y2="410.44" stroke="#3f5db8" stroke-width="1.2" />
<line x1="637.84" y1="410.44" x2="642.24" y2="410.44" stroke="#3f5db8" stroke-width="1.2" />
<line x1="657.33" y1="367.94" x2="657.33" y2="352.56" stroke="#3f5db8" stroke-width="1.2" />
<line x1="655.13" y1="352.56" x2="659.53" y2="352.56" stroke="#3f5db8" stroke-width="1.2" />
<line x1="640.04" y1="452.29" x2="640.04" y2="446.23" stroke="#3fa7ad" stroke-width="1.2" />
<line x1="637.84" y1="446.23" x2="642.24" y2="446.23" stroke="#3fa7ad" stroke-width="1.2" />
<line x1="657.33" y1="442.03" x2="657.33" y2="430.85" stroke="#3fa7ad" stroke-width="1.2" />
<line x1="655.13" y1="430.85" x2="659.53" y2="430.85" stroke="#3fa7ad" stroke-width="1.2" />
<line x1="622.75" y1="454.15" x2="622.75" y2="449.49" stroke="#a533b3" stroke-width="1.2" />
<line x1="620.55" y1="449.49" x2="624.95" y2="449.49" stroke="#a533b3" stroke-width="1.2" />
<line x1="640.04" y1="439.24" x2="640.04" y2="425.72" stroke="#a533b3" stroke-width="1.2" />
<line x1="637.84" y1="425.72" x2="642.24" y2="425.72" stroke="#a533b3" stroke-width="1.2" />
<line x1="657.33" y1="442.50" x2="657.33" y2="435.98" stroke="#a533b3" stroke-width="1.2" />
<line x1="655.13" y1="435.98" x2="659.53" y2="435.98" stroke="#a533b3" stroke-width="1.2" />
<polyline points="536.30,465.80 553.59,465.80 570.88,465.80 588.17,465.80 605.46,465.80 622.75,465.80 640.04,463.00 657.33,461.61" stroke="#111" stroke-width="1.2" fill="none" stroke-linejoin="round" />
<circle cx="536.30" cy="465.80" r="2.4" fill="none" stroke="#111" stroke-width="1.2"/>
<circle cx="553.59" cy="465.80" r="2.4" fill="none" stroke="#111" stroke-width="1.2"/>
<circle cx="570.88" cy="465.80" r="2.4" fill="none" stroke="#111" stroke-width="1.2"/>
<circle cx="588.17" cy="465.80" r="2.4" fill="none" stroke="#111" stroke-width="1.2"/>
<circle cx="605.46" cy="465.80" r="2.4" fill="none" stroke="#111" stroke-width="1.2"/>
<circle cx="622.75" cy="465.80" r="2.4" fill="none" stroke="#111" stroke-width="1.2"/>
<circle cx="640.04" cy="463.00" r="2.4" fill="none" stroke="#111" stroke-width="1.2"/>
<circle cx="657.33" cy="461.61" r="2.4" fill="none" stroke="#111" stroke-width="1.2"/>
<polyline points="536.30,465.80 553.59,464.87 570.88,463.94 588.17,462.54 605.46,461.14 622.75,454.15 640.04,439.24 657.33,442.50" stroke="#a533b3" stroke-width="1.2" fill="none" stroke-linejoin="round" />
<polygon points="533.50,463.80 539.10,463.80 536.30,468.50" fill="none" stroke="#a533b3" stroke-width="1.2" stroke-linejoin="round"/>
<polygon points="550.79,462.87 556.39,462.87 553.59,467.57" fill="none" stroke="#a533b3" stroke-width="1.2" stroke-linejoin="round"/>
<polygon points="568.08,461.94 573.68,461.94 570.88,466.64" fill="none" stroke="#a533b3" stroke-width="1.2" stroke-linejoin="round"/>
<polygon points="585.37,460.54 590.97,460.54 588.17,465.24" fill="none" stroke="#a533b3" stroke-width="1.2" stroke-linejoin="round"/>
<polygon points="602.66,459.14 608.26,459.14 605.46,463.84" fill="none" stroke="#a533b3" stroke-width="1.2" stroke-linejoin="round"/>
<polygon points="619.95,452.15 625.55,452.15 622.75,456.85" fill="none" stroke="#a533b3" stroke-width="1.2" stroke-linejoin="round"/>
<polygon points="637.24,437.24 642.84,437.24 640.04,441.94" fill="none" stroke="#a533b3" stroke-width="1.2" stroke-linejoin="round"/>
<polygon points="654.53,440.50 660.13,440.50 657.33,445.20" fill="none" stroke="#a533b3" stroke-width="1.2" stroke-linejoin="round"/>
<polyline points="536.30,465.80 553.59,465.57 570.88,465.33 588.17,464.87 605.46,463.00 622.75,460.67 640.04,452.29 657.33,442.03" stroke="#3fa7ad" stroke-width="1.2" fill="none" stroke-linejoin="round" />
<rect x="534.00" y="463.50" width="4.6" height="4.6" fill="none" stroke="#3fa7ad" stroke-width="1.2"/>
<rect x="551.29" y="463.27" width="4.6" height="4.6" fill="none" stroke="#3fa7ad" stroke-width="1.2"/>
<rect x="568.58" y="463.03" width="4.6" height="4.6" fill="none" stroke="#3fa7ad" stroke-width="1.2"/>
<rect x="585.87" y="462.57" width="4.6" height="4.6" fill="none" stroke="#3fa7ad" stroke-width="1.2"/>
<rect x="603.16" y="460.70" width="4.6" height="4.6" fill="none" stroke="#3fa7ad" stroke-width="1.2"/>
<rect x="620.45" y="458.37" width="4.6" height="4.6" fill="none" stroke="#3fa7ad" stroke-width="1.2"/>
<rect x="637.74" y="449.99" width="4.6" height="4.6" fill="none" stroke="#3fa7ad" stroke-width="1.2"/>
<rect x="655.03" y="439.73" width="4.6" height="4.6" fill="none" stroke="#3fa7ad" stroke-width="1.2"/>
<polyline points="536.30,465.80 553.59,464.63 570.88,460.67 588.17,454.01 605.46,444.97 622.75,428.52 640.04,413.70 657.33,367.94" stroke="#3f5db8" stroke-width="1.2" fill="none" stroke-linejoin="round" />
<circle cx="536.30" cy="465.80" r="2.4" fill="none" stroke="#3f5db8" stroke-width="1.2"/>
<circle cx="553.59" cy="464.63" r="2.4" fill="none" stroke="#3f5db8" stroke-width="1.2"/>
<circle cx="570.88" cy="460.67" r="2.4" fill="none" stroke="#3f5db8" stroke-width="1.2"/>
<circle cx="588.17" cy="454.01" r="2.4" fill="none" stroke="#3f5db8" stroke-width="1.2"/>
<circle cx="605.46" cy="444.97" r="2.4" fill="none" stroke="#3f5db8" stroke-width="1.2"/>
<circle cx="622.75" cy="428.52" r="2.4" fill="none" stroke="#3f5db8" stroke-width="1.2"/>
<circle cx="640.04" cy="413.70" r="2.4" fill="none" stroke="#3f5db8" stroke-width="1.2"/>
<circle cx="657.33" cy="367.94" r="2.4" fill="none" stroke="#3f5db8" stroke-width="1.2"/>
<line x1="552.00" y1="352.10" x2="564.40" y2="352.10" stroke="#3f5db8" stroke-width="1.2" />
<circle cx="558.20" cy="352.10" r="2.4" fill="none" stroke="#3f5db8" stroke-width="1.2"/>
<text transform="translate(571.05,354.80) scale(1.067,1)" font-size="8.80" font-weight="normal" fill="#222">PBS</text>
<line x1="552.00" y1="365.60" x2="564.40" y2="365.60" stroke="#3fa7ad" stroke-width="1.2" />
<rect x="555.90" y="363.30" width="4.6" height="4.6" fill="none" stroke="#3fa7ad" stroke-width="1.2"/>
<text transform="translate(571.36,368.30) scale(0.996,1)" font-size="8.80" font-weight="normal" fill="#222">Cisplatin</text>
<line x1="552.00" y1="378.90" x2="564.40" y2="378.90" stroke="#111" stroke-width="1.2" />
<circle cx="558.20" cy="378.90" r="2.4" fill="none" stroke="#111" stroke-width="1.2"/>
<text transform="translate(571.36,381.60) scale(0.999,1)" font-size="8.80" font-weight="normal" fill="#222">Cisplatin+CR108</text>
<line x1="552.00" y1="392.60" x2="564.40" y2="392.60" stroke="#a533b3" stroke-width="1.2" />
<polygon points="555.40,390.60 561.00,390.60 558.20,395.30" fill="none" stroke="#a533b3" stroke-width="1.2" stroke-linejoin="round"/>
<text transform="translate(571.35,395.30) scale(1.023,1)" font-size="8.80" font-weight="normal" fill="#222">CR108</text>
<line x1="663.90" y1="367.20" x2="663.90" y2="462.70" stroke="#000" stroke-width="1.8" />
<line x1="667.10" y1="435.50" x2="667.10" y2="462.70" stroke="#000" stroke-width="1.8" />
<text transform="translate(662.85,406.77) rotate(90) scale(1.175,1)" font-size="10" font-weight="normal" stroke="#000" stroke-width="0.15">****</text>
<text transform="translate(667.35,444.73) rotate(90) scale(1.371,1)" font-size="10" font-weight="normal" stroke="#000" stroke-width="0.15">*</text>
</svg></body></html>
